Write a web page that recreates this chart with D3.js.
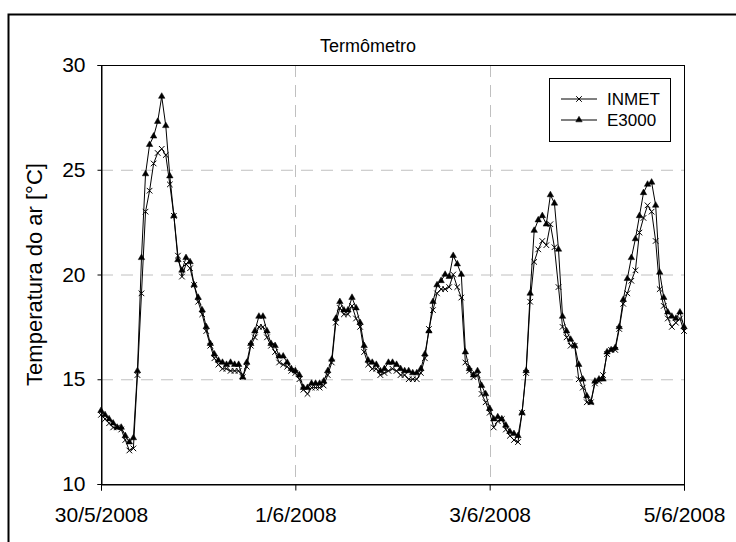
<!DOCTYPE html>
<html lang="pt">
<head>
<meta charset="UTF-8">
<script src="https://d3js.org/d3.v7.min.js"></script>
<style>
  body { margin: 0; background: #fff; font-family: Arial, "Liberation Sans", sans-serif; }
  svg text { fill: #000; }
</style>
</head>
<body>
<svg id="chart" width="736" height="542"></svg>
<script>
// hourly readings from 30/5/2008 00h to 5/6/2008 00h
const inmet = [
  13.3, 13.1, 12.9, 12.7, 12.7, 12.6, 12.1, 11.6, 11.7, 15.2, 19.1, 23.0,
  24.0, 25.3, 25.8, 26.0, 25.7, 24.3, 22.8, 20.9, 19.9, 20.5, 20.3, 19.5,
  18.7, 18.1, 17.3, 16.6, 16.0, 15.7, 15.5, 15.5, 15.4, 15.4, 15.4, 15.1,
  15.6, 16.6, 17.0, 17.5, 17.5, 17.0, 16.6, 16.3, 15.8, 15.7, 15.6, 15.4,
  15.3, 15.0, 14.5, 14.3, 14.6, 14.6, 14.6, 14.7, 15.2, 15.8, 17.7, 18.4,
  18.1, 18.1, 18.5, 17.9, 17.5, 16.3, 15.7, 15.5, 15.5, 15.2, 15.3, 15.4,
  15.5, 15.4, 15.2, 15.2, 15.0, 15.0, 15.0, 15.3, 16.0, 17.4, 18.3, 19.1,
  19.3, 19.3, 19.4, 20.0, 19.4, 18.9, 15.8, 15.4, 15.1, 15.2, 14.3, 13.9,
  13.4, 12.7, 13.0, 13.1, 12.6, 12.3, 12.1, 12.0, 13.4, 15.3, 18.7, 20.6,
  21.2, 21.6, 21.4, 22.4, 21.3, 19.4, 17.5, 17.0, 16.6, 16.6, 15.0, 14.6,
  13.9, 13.9, 14.8, 14.9, 15.2, 16.2, 16.4, 16.4, 17.4, 18.6, 19.1, 19.7,
  20.2, 22.0, 22.7, 23.3, 23.0, 21.6, 19.3, 18.5, 17.9, 17.5, 17.7, 17.9,
  17.3
];
const e3000 = [
  13.5, 13.3, 13.1, 12.9, 12.7, 12.7, 12.3, 12.0, 12.2, 15.4, 20.8, 24.8,
  26.2, 26.6, 27.3, 28.5, 27.1, 24.7, 22.8, 20.7, 20.2, 20.8, 20.6, 19.5,
  18.9, 18.3, 17.5, 16.7, 16.2, 15.9, 15.8, 15.7, 15.8, 15.7, 15.7, 15.1,
  15.8, 16.7, 17.3, 18.0, 18.0, 17.3, 16.7, 16.6, 16.1, 16.1, 15.8, 15.5,
  15.4, 15.2, 14.6, 14.6, 14.8, 14.8, 14.8, 14.9, 15.4, 15.95, 17.9, 18.7,
  18.3, 18.3, 18.9, 18.4, 17.7, 16.6, 15.9, 15.8, 15.7, 15.4, 15.5, 15.8,
  15.8, 15.7, 15.5, 15.4, 15.4, 15.3, 15.3, 15.5, 16.2, 17.3, 18.7, 19.5,
  19.7, 20.0, 19.9, 20.9, 20.5, 20.0, 16.3, 15.5, 15.2, 15.4, 14.7, 14.3,
  13.6, 13.1, 13.2, 13.1, 12.8, 12.5, 12.4, 12.3, 13.4, 15.4, 19.1, 22.1,
  22.6, 22.8, 22.4, 23.8, 23.4, 21.2, 18.0, 17.3, 16.9, 16.6, 15.7, 15.0,
  14.2, 13.9, 14.9, 15.0, 15.0, 16.3, 16.4, 16.5, 17.5, 18.8, 19.8, 20.8,
  21.7, 22.8, 23.9, 24.3, 24.4, 23.3, 20.1, 18.9, 18.2, 18.0, 17.9, 18.2,
  17.5
];
const xTickLabels = ["30/5/2008", "1/6/2008", "3/6/2008", "5/6/2008"];
const xTickHours = [0, 48, 96, 144];
const yTicks = [10, 15, 20, 25, 30];
const seriesNames = ["INMET", "E3000"];

const start = new Date(2008, 4, 30);
const times = inmet.map((_, i) => d3.timeHour.offset(start, i));
const xTicks = xTickHours.map(h => d3.timeHour.offset(start, h));

const svg = d3.select("#chart");
const margin = { top: 65, right: 52, bottom: 58, left: 101 };
const W = 736, H = 542;

const x = d3.scaleTime()
  .domain([start, times[times.length - 1]])
  .range([margin.left, W - margin.right]);
const y = d3.scaleLinear()
  .domain([10, 30])
  .range([H - margin.bottom, margin.top]);

// outer frame
svg.append("rect")
  .attr("x", 8.5).attr("y", 14.5)
  .attr("width", 740).attr("height", 540)
  .attr("fill", "none").attr("stroke", "#000").attr("stroke-width", 2);

// grid
svg.append("g")
  .selectAll("line")
  .data([15, 20, 25])
  .join("line")
  .attr("x1", margin.left).attr("x2", W - margin.right)
  .attr("y1", d => y(d) + 0.5).attr("y2", d => y(d) + 0.5)
  .attr("stroke", "#c0c0c0").attr("stroke-dasharray", "12,8");
svg.append("g")
  .selectAll("line")
  .data(xTicks.slice(1, -1))
  .join("line")
  .attr("x1", d => Math.round(x(d)) + 0.5).attr("x2", d => Math.round(x(d)) + 0.5)
  .attr("y1", margin.top).attr("y2", H - margin.bottom)
  .attr("stroke", "#c0c0c0").attr("stroke-dasharray", "12,8");

// plot border
svg.append("rect")
  .attr("x", margin.left + 0.5).attr("y", margin.top + 0.5)
  .attr("width", W - margin.right - margin.left).attr("height", H - margin.bottom - margin.top)
  .attr("fill", "none").attr("stroke", "#000");

// axes
const xAxis = svg.append("g")
  .attr("transform", `translate(0,${H - margin.bottom + 0.5})`)
  .call(d3.axisBottom(x).tickValues(xTicks).tickSize(6).tickPadding(17)
    .tickFormat((d, i) => xTickLabels[i]));
const yAxis = svg.append("g")
  .attr("transform", `translate(${margin.left + 0.5},0)`)
  .call(d3.axisLeft(y).tickValues(yTicks).tickSize(4).tickPadding(12));
[xAxis, yAxis].forEach(g => {
  g.select(".domain").attr("stroke", "#000");
  g.selectAll(".tick line").attr("stroke", "#000");
  g.selectAll("text").attr("font-size", 21).attr("font-family", "Arial, 'Liberation Sans', sans-serif");
});

// title and axis label
svg.append("text")
  .attr("x", 368).attr("y", 52)
  .attr("text-anchor", "middle").attr("font-size", 18)
  .text("Termômetro");
svg.append("text")
  .attr("transform", `translate(42,${(margin.top + H - margin.bottom) / 2}) rotate(-90)`)
  .attr("text-anchor", "middle").attr("font-size", 22)
  .text("Temperatura do ar [°C]");

// series
const line = d3.line().x((d, i) => x(times[i])).y(d => y(d));
const sym = {
  INMET: d3.symbol().type(d3.symbolTimes).size(22),
  E3000: d3.symbol().type(d3.symbolTriangle).size(18)
};
[[inmet, "INMET"], [e3000, "E3000"]].forEach(([vals, name]) => {
  svg.append("path")
    .datum(vals)
    .attr("d", line)
    .attr("fill", "none").attr("stroke", "#000").attr("stroke-width", 1);
  svg.append("g")
    .selectAll("path")
    .data(vals)
    .join("path")
    .attr("transform", (d, i) => `translate(${x(times[i])},${y(d)})`)
    .attr("d", sym[name]())
    .attr("fill", name === "E3000" ? "#000" : "none")
    .attr("stroke", "#000").attr("stroke-width", name === "E3000" ? 0.5 : 1);
});

// legend
const lg = svg.append("g").attr("transform", "translate(549,78)");
lg.append("rect")
  .attr("x", 0.5).attr("y", 0.5).attr("width", 121).attr("height", 63)
  .attr("fill", "#fff").attr("stroke", "#000");
seriesNames.forEach((name, i) => {
  const ly = 21 + i * 21;
  lg.append("line")
    .attr("x1", 12).attr("x2", 48).attr("y1", ly).attr("y2", ly)
    .attr("stroke", "#000");
  lg.append("path")
    .attr("transform", `translate(30,${ly})`)
    .attr("d", sym[name]())
    .attr("fill", name === "E3000" ? "#000" : "none")
    .attr("stroke", "#000").attr("stroke-width", name === "E3000" ? 0.5 : 1);
  lg.append("text")
    .attr("x", 58).attr("y", ly + 6)
    .attr("font-size", 17)
    .text(name);
});
</script>
</body>
</html>
